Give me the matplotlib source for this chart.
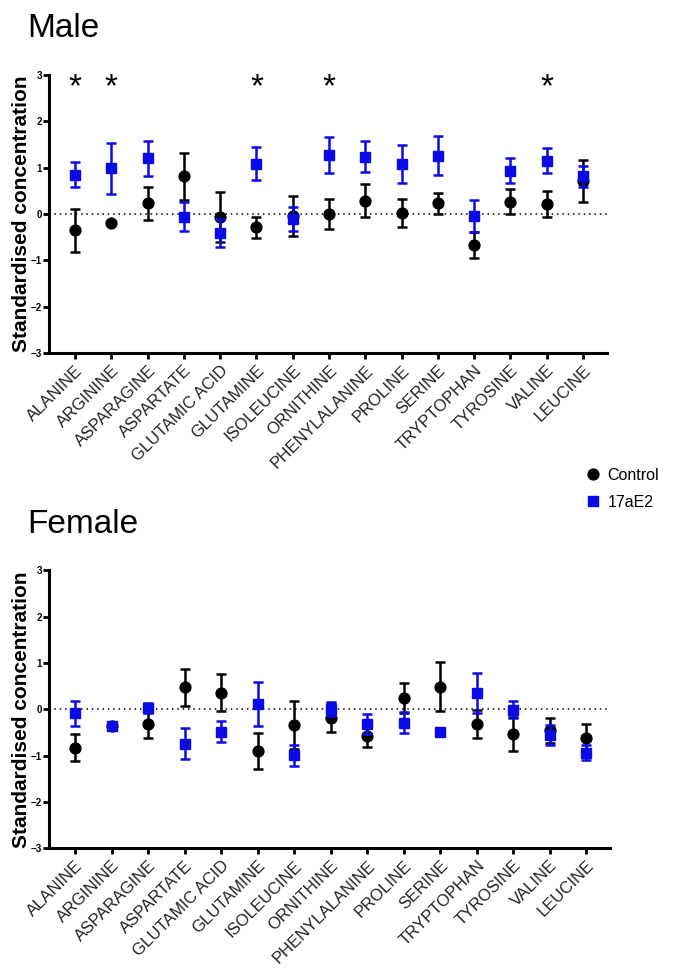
import numpy as np
import matplotlib
matplotlib.use("Agg")
import matplotlib.pyplot as plt

plt.rcParams['font.family'] = ['Liberation Sans', 'DejaVu Sans']

amino = ['ALANINE', 'ARGININE', 'ASPARAGINE', 'ASPARTATE', 'GLUTAMIC ACID',
         'GLUTAMINE', 'ISOLEUCINE', 'ORNITHINE', 'PHENYLALANINE', 'PROLINE',
         'SERINE', 'TRYPTOPHAN', 'TYROSINE', 'VALINE', 'LEUCINE']

# male: mean and error bar half-length
male_ctrl = [-0.35, -0.19, 0.23, 0.81, -0.06, -0.29, -0.05, 0.0, 0.29, 0.02,
             0.23, -0.67, 0.27, 0.21, 0.72]
male_ctrl_err = [0.46, 0.03, 0.36, 0.5, 0.54, 0.22, 0.43, 0.32, 0.35, 0.31,
                 0.22, 0.28, 0.27, 0.28, 0.45]
male_e2 = [0.85, 0.99, 1.2, -0.06, -0.41, 1.09, -0.1, 1.27, 1.24, 1.09,
           1.26, -0.04, 0.93, 1.15, 0.81]
male_e2_err = [0.27, 0.55, 0.37, 0.31, 0.3, 0.36, 0.26, 0.39, 0.34, 0.41,
               0.42, 0.35, 0.27, 0.27, 0.23]
male_sig = ['ALANINE', 'ARGININE', 'GLUTAMINE', 'ORNITHINE', 'VALINE']

# female
female_ctrl = [-0.83, -0.36, -0.32, 0.48, 0.36, -0.9, -0.34, -0.18, -0.58, 0.24,
               0.49, -0.32, -0.53, -0.45, -0.61]
female_ctrl_err = [0.29, 0.03, 0.31, 0.4, 0.4, 0.38, 0.52, 0.31, 0.23, 0.33,
                   0.53, 0.3, 0.37, 0.27, 0.29]
female_e2 = [-0.09, -0.37, 0.03, -0.74, -0.48, 0.11, -0.99, 0.0, -0.32, -0.29,
             -0.49, 0.35, -0.01, -0.55, -0.94]
female_e2_err = [0.28, 0.03, 0.1, 0.34, 0.22, 0.48, 0.23, 0.15, 0.21, 0.23,
                 0.0, 0.44, 0.18, 0.21, 0.16]

blue = '#0a0ae6'


def panel(ax, ctrl, ctrl_err, e2, e2_err, sig=None):
    x = np.arange(len(amino))
    ax.axhline(0, color='black', linestyle=(0, (1, 2.5)), linewidth=1.1, zorder=1)
    ax.errorbar(x, ctrl, yerr=ctrl_err, fmt='o', color='black', ms=7.8,
                capsize=3.8, elinewidth=1.8, capthick=1.8, zorder=3, label='Control')
    ax.errorbar(x, e2, yerr=e2_err, fmt='s', color=blue, ms=7.2, capsize=3.8,
                elinewidth=1.8, capthick=1.8, zorder=4, label='17aE2')
    if sig:
        for name in sig:
            ax.text(amino.index(name), 2.72, '*', ha='center', va='center',
                    fontsize=24)
    ax.set_xlim(-0.72, 14.66)
    ax.set_ylim(-3, 3)
    ax.set_yticks([-3, -2, -1, 0, 1, 2, 3])
    ax.set_xticks(x)
    ax.set_xticklabels(amino, rotation=45, ha='right', rotation_mode='anchor',
                       fontsize=12, color='#222222')
    ax.tick_params(axis='y', labelsize=7, length=4, width=2, pad=1)
    ax.tick_params(axis='x', length=4, width=2, pad=3)
    for lbl in ax.get_yticklabels():
        lbl.set_fontweight('bold')
    for s in ['top', 'right']:
        ax.spines[s].set_visible(False)
    for s in ['left', 'bottom']:
        ax.spines[s].set_linewidth(2.2)
    ax.set_ylabel('Standardised concentration', fontsize=15, fontweight='bold',
                  labelpad=0)


fig = plt.figure(figsize=(6.73, 9.75), dpi=100)
ax1 = fig.add_axes([0.0728, 0.638, 0.829, 0.285])
ax2 = fig.add_axes([0.0728, 0.130, 0.834, 0.285])

panel(ax1, male_ctrl, male_ctrl_err, male_e2, male_e2_err, male_sig)
panel(ax2, female_ctrl, female_ctrl_err, female_e2, female_e2_err)

fig.text(0.040, 0.962, 'Male', fontsize=24, ha='left', va='baseline')
fig.text(0.040, 0.453, 'Female', fontsize=24, ha='left', va='baseline')

handles, labels = ax1.get_legend_handles_labels()
handles = [h[0] for h in handles]
fig.legend(handles, labels, loc='upper left', bbox_to_anchor=(0.848, 0.535),
           frameon=False, fontsize=11.5, handletextpad=0.4, labelspacing=0.75,
           handlelength=1.0)

fig.savefig('out.png', dpi=100)
